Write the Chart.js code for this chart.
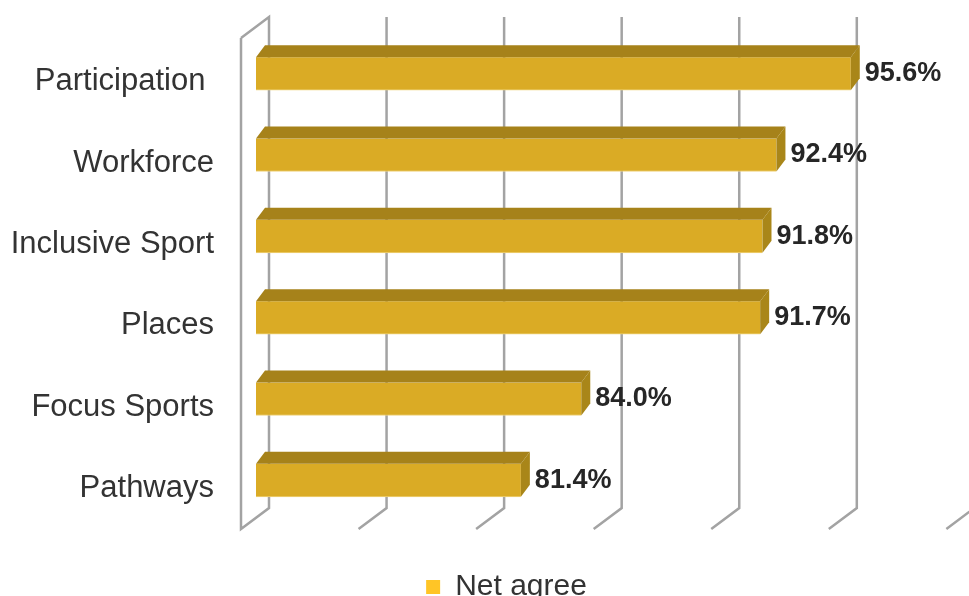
<!DOCTYPE html>
<html><head><meta charset="utf-8">
<script src="https://cdn.jsdelivr.net/npm/chart.js@4"></script>
<style>html,body{margin:0;padding:0;background:#fff;overflow:hidden}#wrap{width:969px;height:596px;overflow:hidden}canvas{display:block}</style>
</head><body><div id="wrap"><canvas id="c" width="969" height="596"></canvas></div>
<script>
const categories = ["Participation ", "Workforce", "Inclusive Sport", "Places", "Focus Sports", "Pathways"];
const netAgree = [95.6, 92.4, 91.8, 91.7, 84.0, 81.4];
const seriesName = "Net agree";
const gridTicks = [70, 75, 80, 85, 90, 95, 100];

const FONT = 'Liberation Sans';

const threeD = {
  id: 'threeD',
  afterLayout(chart) {
    const lg = chart.legend;
    if (lg) { lg.left += 30; lg.right += 30; lg.top += 41; lg.bottom += 41; }
  },
  beforeDatasetsDraw(chart) {
    const {ctx, chartArea: a, scales: {x}} = chart;
    const yTop = a.top - 16, yBot = a.bottom - 13;
    const backX = v => a.left + 13 + (x.getPixelForValue(v) - a.left) * 1.012;
    ctx.save();
    ctx.strokeStyle = '#A3A3A3';
    ctx.lineWidth = 2.5;
    ctx.lineJoin = 'miter';
    gridTicks.forEach((v, i) => {
      const X = backX(v);
      ctx.beginPath();
      if (i === 0) { ctx.moveTo(X - 28, yTop + 21); ctx.lineTo(X, yTop); }
      else ctx.moveTo(X, yTop);
      ctx.lineTo(X, yBot);
      ctx.lineTo(X - 28, yBot + 21);
      if (i === 0) ctx.lineTo(X - 28, yTop + 21);
      ctx.stroke();
    });
    ctx.restore();
  },
  afterDatasetsDraw(chart) {
    const {ctx, chartArea: a} = chart;
    const ds = chart.data.datasets[0];
    const meta = chart.getDatasetMeta(0);
    ctx.save();
    meta.data.forEach((bar, i) => {
      const p = bar.getProps(['x', 'y', 'base', 'height'], true);
      const x = p.x, y = p.y, base = Math.max(p.base, a.left), height = p.height;
      const t = y - height / 2, b = y + height / 2;
      ctx.fillStyle = '#A6821A';
      ctx.beginPath();
      ctx.moveTo(base, t); ctx.lineTo(base + 9, t - 12); ctx.lineTo(x + 9, t - 12); ctx.lineTo(x, t);
      ctx.closePath(); ctx.fill();
      ctx.fillStyle = '#A98619';
      ctx.beginPath();
      ctx.moveTo(x, t); ctx.lineTo(x + 9, t - 12); ctx.lineTo(x + 9, b - 12); ctx.lineTo(x, b);
      ctx.closePath(); ctx.fill();
      ctx.fillStyle = '#262626';
      ctx.font = 'bold 27px "' + FONT + '"';
      ctx.textBaseline = 'middle';
      ctx.textAlign = 'left';
      ctx.fillText(ds.data[i].toFixed(1) + '%', x + 14, y);
    });
    ctx.restore();
  }
};

Chart.defaults.font.family = FONT;

new Chart(document.getElementById('c'), {
  type: 'bar',
  data: {
    labels: categories,
    datasets: [{
      label: seriesName,
      data: netAgree,
      backgroundColor: '#DAAB25',
      borderColor: '#EFD27A',
      borderWidth: {top: 0, left: 0, right: 0, bottom: 1},
      borderSkipped: false,
      barThickness: 33
    }]
  },
  options: {
    indexAxis: 'y',
    responsive: false,
    animation: false,
    layout: {padding: {top: 33, right: 16, bottom: 25, left: 0}},
    scales: {
      x: {display: false, min: 70, max: 100},
      y: {
        grid: {display: false, drawTicks: false},
        border: {display: false},
        ticks: {padding: 42, labelOffset: 8, color: '#333333', font: {family: FONT, size: 31}, autoSkip: false},
        afterFit(s) { s.width = 256; s.paddingTop = 0; s.paddingBottom = 0; }
      }
    },
    plugins: {
      tooltip: {enabled: false},
      legend: {
        position: 'bottom',
        labels: {
          font: {family: FONT, size: 30},
          color: '#333333',
          boxWidth: 14,
          boxHeight: 14,
          padding: 10,
          generateLabels(chart) {
            const items = Chart.defaults.plugins.legend.labels.generateLabels(chart);
            items.forEach(it => { it.fillStyle = '#FFC526'; it.strokeStyle = '#FFC526'; it.lineWidth = 0; });
            return items;
          }
        }
      }
    }
  },
  plugins: [threeD]
});
</script>
</body></html>
